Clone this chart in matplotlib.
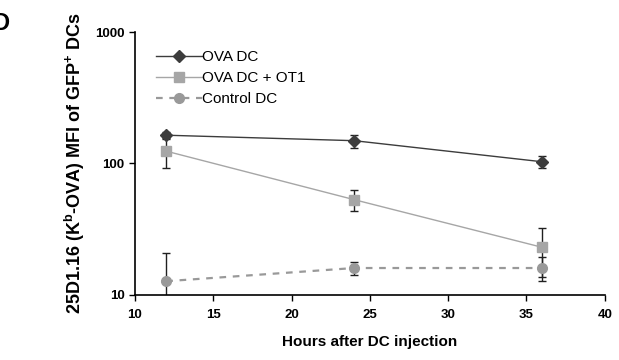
import matplotlib
matplotlib.use("Agg")
import matplotlib.pyplot as plt
from matplotlib.lines import Line2D
from matplotlib.ticker import FixedLocator, NullLocator

plt.rcParams.update({
    "font.family": "Liberation Sans",
    "font.weight": "bold",
    "mathtext.fontset": "custom",
    "mathtext.rm": "Liberation Sans:bold",
    "mathtext.bf": "Liberation Sans:bold",
    "mathtext.default": "bf",
})

hours = [12, 24, 36]
ova_dc = [164, 149, 103]
ova_dc_err = [10, 17, 10]
ova_ot1 = [124, 53, 23]
ova_ot1_err = [32, 9.5, 9.4]
control = [12.7, 16, 16]
control_err = [8, 1.8, 3.3]

fig = plt.figure(figsize=(6.19, 3.6), dpi=100)
ax = fig.add_axes([0.218, 0.181, 0.759, 0.730])

styles = [
    dict(color="#3c3c3c", marker="D", ms=6, lw=1.0, ls="-"),
    dict(color="#a6a6a6", marker="s", ms=7, lw=1.0, ls="-"),
    dict(color="#999999", marker="o", ms=7, lw=1.6, ls=(0, (3, 3))),
]
labels = ["OVA DC", "OVA DC + OT1", "Control DC"]
for vals, errs, st, z in zip([ova_dc, ova_ot1, control],
                             [ova_dc_err, ova_ot1_err, control_err],
                             styles, [3, 2, 2]):
    ax.errorbar(hours, vals, yerr=errs, ecolor="#202020", elinewidth=1.0, capsize=3,
                zorder=z, **st)

ax.set_yscale("log")
ax.set_ylim(10, 1000)
ax.set_xlim(10, 40)
ax.yaxis.set_major_locator(FixedLocator([10, 100, 1000]))
ax.yaxis.set_minor_locator(NullLocator())
ax.set_yticklabels(["10", "100", "1000"])
ax.set_xticks(range(10, 41, 5))
ax.tick_params(labelsize=9.5, length=4, width=1.0, direction="out")
ax.tick_params(axis="x", pad=6)
for lab in ax.get_xticklabels() + ax.get_yticklabels():
    lab.set_fontweight("bold")
ax.spines["top"].set_visible(False)
ax.spines["right"].set_visible(False)
ax.spines["left"].set_linewidth(1.2)
ax.spines["bottom"].set_linewidth(1.2)

ax.set_xlabel("Hours after DC injection", fontsize=11, fontweight="bold", labelpad=10)
ax.set_ylabel("25D1.16 (K$^{b}$-OVA) MFI of GFP$^{+}$ DCs", fontsize=13, fontweight="bold",
              labelpad=6)

handles = [Line2D([], [], **st) for st in styles]
leg = ax.legend(handles, labels, loc="upper left", bbox_to_anchor=(0.025, 0.965), frameon=False,
                fontsize=11, handlelength=3.0, handletextpad=0.0, labelspacing=0.45,
                borderaxespad=0.2)
for t in leg.get_texts():
    t.set_fontweight("normal")

fig.text(-0.012, 0.935, "D", fontsize=17, fontweight="bold", va="center", ha="left")

fig.savefig("out.png", dpi=100)
